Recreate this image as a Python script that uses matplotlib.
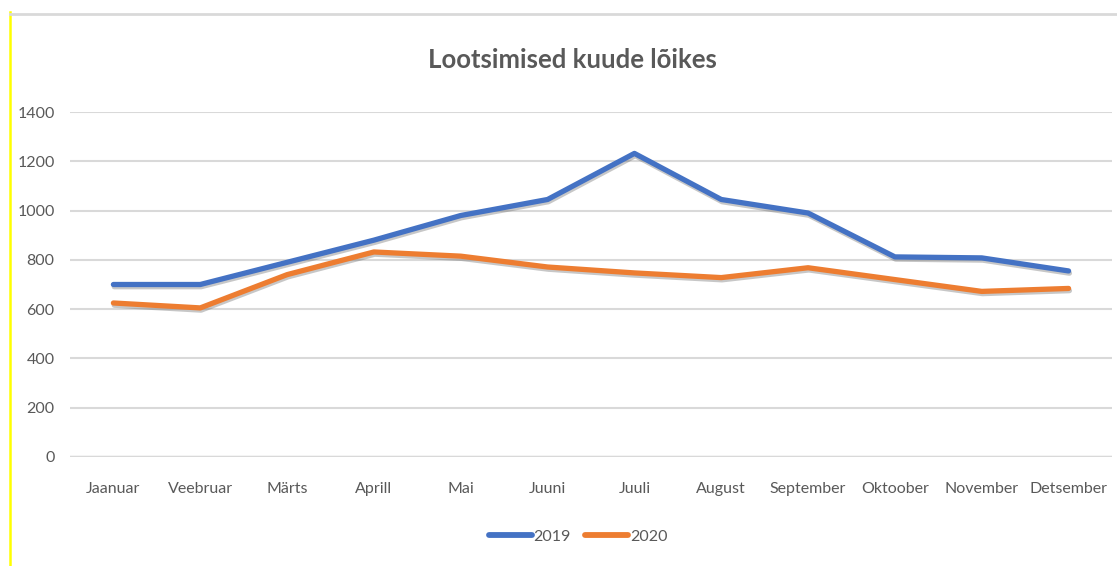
import matplotlib.pyplot as plt
import matplotlib.patheffects as pe
from matplotlib.lines import Line2D
import numpy as np

# andmed
months = ['Jaanuar', 'Veebruar', 'Märts', 'Aprill', 'Mai', 'Juuni', 'Juuli',
          'August', 'September', 'Oktoober', 'November', 'Detsember']
y2019 = [700, 700, 790, 880, 980, 1045, 1232, 1045, 990, 812, 808, 755]
y2020 = [625, 605, 740, 832, 815, 771, 747, 728, 768, 720, 672, 684]
yticks = [0, 200, 400, 600, 800, 1000, 1200, 1400]

plt.rcParams['font.family'] = ['Lato', 'DejaVu Sans']

fig = plt.figure(figsize=(11.17, 5.66), dpi=100)
W, H = 1117, 566
ax = fig.add_axes([70 / W, 1 - 457 / H, (1112 - 70) / W, (457 - 112) / H])

x = np.arange(len(months))
shadow = [pe.SimpleLineShadow(offset=(0.6, -1.6), shadow_color='#606060', alpha=0.35), pe.Normal()]
ax.plot(x, y2019, color='#4472C4', lw=3.8, solid_capstyle='round',
        solid_joinstyle='round', path_effects=shadow, zorder=3)
ax.plot(x, y2020, color='#ED7D31', lw=3.8, solid_capstyle='round',
        solid_joinstyle='round', path_effects=shadow, zorder=3)

ax.set_xlim(-0.5, len(months) - 0.5)
ax.set_ylim(0, 1400)
ax.set_yticks(yticks)
ax.set_yticklabels([str(v) for v in yticks])
ax.set_xticks(x)
ax.set_xticklabels(months)
ax.tick_params(length=0, labelsize=11.5, labelcolor='#595959')
ax.tick_params(axis='y', pad=11)
ax.tick_params(axis='x', pad=18)
for s in ax.spines.values():
    s.set_visible(False)
ax.yaxis.grid(True, color='#D9D9D9', lw=1.5)
ax.axhline(0, color='#D9D9D9', lw=2.5, zorder=1)
ax.set_axisbelow(True)

fig.text(572 / W, 1 - 60 / H, 'Lootsimised kuude lõikes', ha='center', va='center',
         fontsize=18.5, fontweight='bold', color='#595959')

handles = [Line2D([], [], color='#4472C4', lw=4.2, solid_capstyle='round'),
           Line2D([], [], color='#ED7D31', lw=4.2, solid_capstyle='round')]
fig.legend(handles, ['2019', '2020'], loc='center', bbox_to_anchor=(578 / W, 1 - 537 / H),
           ncol=2, frameon=False, fontsize=11.5, labelcolor='#595959',
           handlelength=2.7, handletextpad=0.1, columnspacing=0.9)

# ääred
fig.add_artist(Line2D([10 / W, 10 / W], [0, 1 - 12 / H], color='#FFFF00', lw=1.8))
fig.add_artist(Line2D([10 / W, 1116 / W], [1 - 14 / H, 1 - 14 / H], color='#D9D9D9', lw=2))

fig.savefig('out.png', dpi=100)
